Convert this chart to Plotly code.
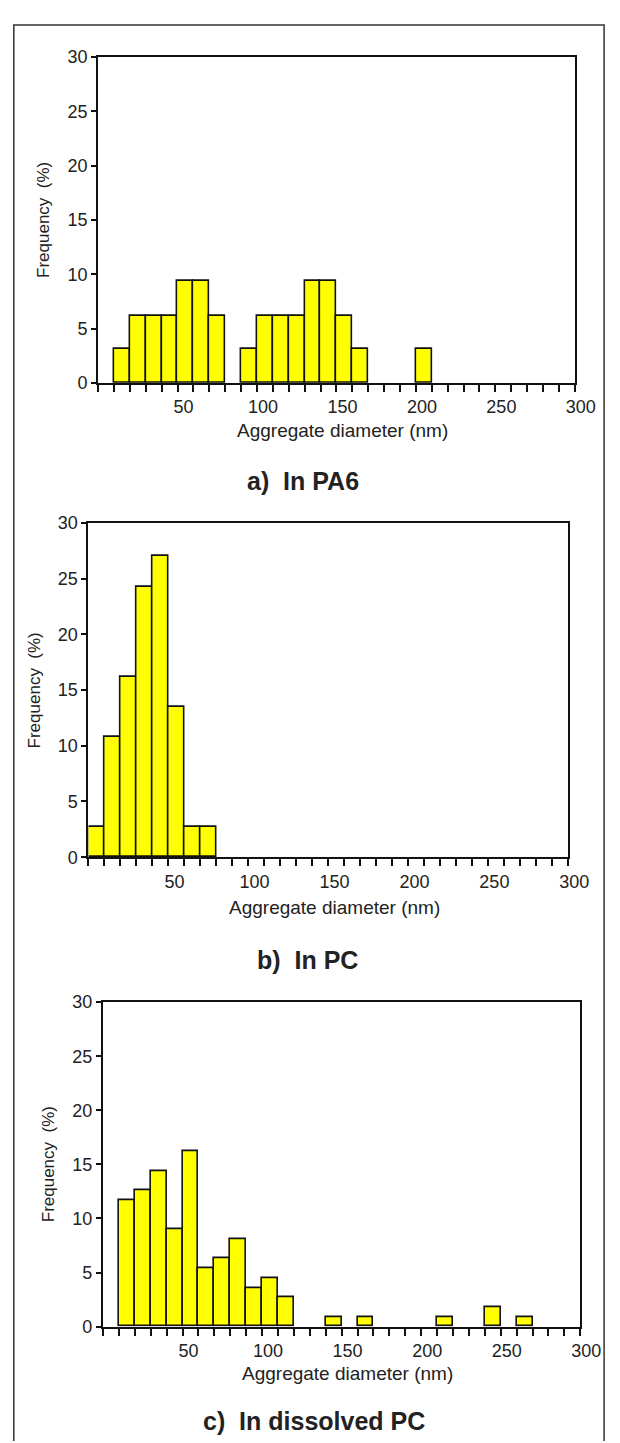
import plotly.graph_objects as go

# ---- data (percent frequency per 10 nm bin, bins start at 0 nm) ----
bin_width = 10
bin_starts = list(range(0, 300, 10))

freq_pa6 = [0, 3.1, 6.2, 6.2, 6.2, 9.4, 9.4, 6.2, 0, 3.1,
            6.2, 6.2, 6.2, 9.4, 9.4, 6.2, 3.1, 0, 0, 0,
            3.1]
freq_pc = [2.7, 10.8, 16.2, 24.3, 27.0, 13.5, 2.7, 2.7]
freq_dissolved = [0, 11.7, 12.6, 14.4, 9.0, 16.2, 5.4, 6.3, 8.1, 3.6,
                  4.5, 2.7, 0, 0, 0.9, 0, 0.9, 0, 0, 0,
                  0, 0.9, 0, 0, 1.8, 0, 0.9]

panel_titles = ["a)  In PA6", "b)  In PC", "c)  In dissolved PC"]
x_title = "Aggregate diameter (nm)"
y_title = "Frequency  (%)"
y_ticks = [0, 5, 10, 15, 20, 25, 30]
x_label_vals = [50, 100, 150, 200, 250, 300]

W, H = 620, 1443

# pixel boxes for each panel: (x0, x1, ytop, ybottom)
boxes = [
    (93.3, 586.7, 39.5, 370.0),
    (83.3, 580.0, 512.0, 851.0),
    (98.3, 592.3, 998.0, 1327.0),
]
title_y = [470, 955, 1423]
title_x = [305, 310, 317]
xlab_y = [418, 902, 1375]

fig = go.Figure()
series = [freq_pa6, freq_pc, freq_dissolved]

tickvals = list(range(0, 301, 10))
ticktext = [str(v) if v in x_label_vals else "" for v in tickvals]

font_family = "Liberation Sans, Arial, sans-serif"

for i, (vals, box) in enumerate(zip(series, boxes)):
    xs = [bin_starts[k] + bin_width / 2 for k, v in enumerate(vals) if v > 0]
    ys = [v for v in vals if v > 0]
    n = "" if i == 0 else str(i + 1)
    fig.add_trace(go.Bar(
        x=xs, y=ys, width=bin_width,
        marker=dict(color="#ffff00", line=dict(color="#111111", width=1.6)),
        xaxis="x" + n, yaxis="y" + n, showlegend=False,
    ))
    x0, x1, yt, yb = box
    fig.layout["xaxis" + n] = dict(
        domain=[x0 / W, x1 / W], anchor="y" + n, range=[0, 300],
        tickmode="array", tickvals=tickvals, ticktext=ticktext,
        ticks="outside", ticklen=7, tickwidth=1.6, tickcolor="#111",
        showline=True, linecolor="#111", linewidth=2, mirror=True,
        showgrid=False, zeroline=False, fixedrange=True,
        tickfont=dict(family=font_family, size=18, color="#222"),
        ticklabelshift=6,
    )
    fig.layout["yaxis" + n] = dict(
        domain=[1 - yb / H, 1 - yt / H], anchor="x" + n, range=[0, 30],
        tickmode="array", tickvals=y_ticks,
        ticks="outside", ticklen=5, tickwidth=1.6, tickcolor="#111",
        showline=True, linecolor="#111", linewidth=2, mirror=True,
        showgrid=False, zeroline=False, fixedrange=True,
        tickfont=dict(family=font_family, size=18, color="#222"),
    )
    # x-axis title
    fig.add_annotation(
        text=x_title, xref="paper", yref="paper",
        x=((x0 + x1) / 2 + 6) / W, y=1 - xlab_y[i] / H,
        showarrow=False, xanchor="center", yanchor="middle",
        font=dict(family=font_family, size=19, color="#222"),
    )
    # y-axis title
    fig.add_annotation(
        text=y_title, xref="paper", yref="paper",
        x=(x0 - 56) / W, y=1 - ((yt + yb) / 2) / H,
        showarrow=False, textangle=-90, xanchor="center", yanchor="middle",
        font=dict(family=font_family, size=17, color="#222"),
    )
    # panel caption
    fig.add_annotation(
        text="<b>" + panel_titles[i] + "</b>", xref="paper", yref="paper",
        x=title_x[i] / W, y=1 - title_y[i] / H,
        showarrow=False, xanchor="center", yanchor="middle",
        font=dict(family=font_family, size=25, color="#222"),
    )

# outer frame (open at the bottom)
fig.add_shape(type="path", xref="paper", yref="paper",
              path=f"M {6/W} 0 L {6/W} {1-7/H} L {617/W} {1-7/H} L {617/W} 0",
              line=dict(color="#333", width=1.5))

fig.update_layout(
    width=W, height=H, margin=dict(l=0, r=0, t=0, b=0),
    paper_bgcolor="white", plot_bgcolor="white",
    bargap=0, showlegend=False,
)

fig.write_html("out.html")
